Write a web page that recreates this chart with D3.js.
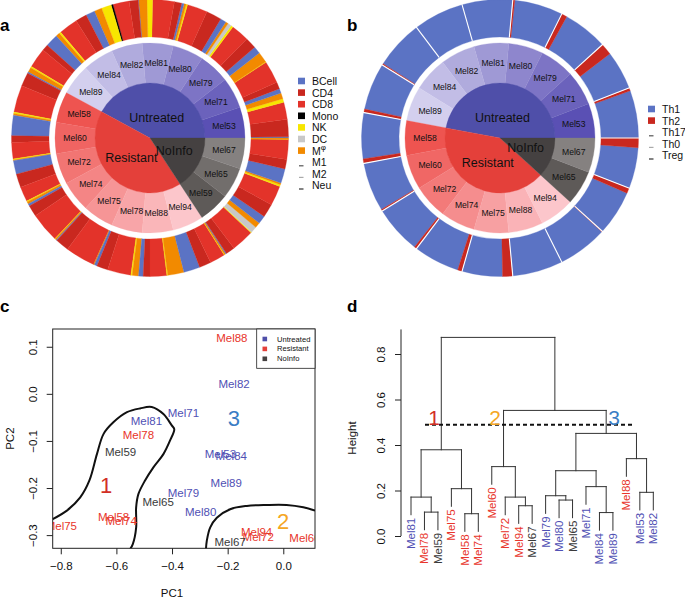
<!DOCTYPE html>
<html>
<head>
<meta charset="utf-8">
<script src="https://cdn.jsdelivr.net/npm/d3@7"></script>
<style>
  body { margin: 0; background: #fff; }
  svg { display: block; font-family: "Liberation Sans", Arial, sans-serif; }
</style>
</head>
<body>
<div id="chart"></div>
<script>
const W = 685, H = 602

// ---- panels a / b : sunbursts ----
const groups = ['Untreated', 'Resistant', 'NoInfo']

const samplesA = ['Mel53', 'Mel71', 'Mel79', 'Mel80', 'Mel81', 'Mel82', 'Mel84', 'Mel89',
  'Mel58', 'Mel60', 'Mel72', 'Mel74', 'Mel75', 'Mel78', 'Mel88', 'Mel94', 'Mel59', 'Mel65', 'Mel67']
const groupOfA = ['Untreated', 'Untreated', 'Untreated', 'Untreated', 'Untreated', 'Untreated', 'Untreated', 'Untreated',
  'Resistant', 'Resistant', 'Resistant', 'Resistant', 'Resistant', 'Resistant', 'Resistant', 'Resistant',
  'NoInfo', 'NoInfo', 'NoInfo']
const cellTypes = ['BCell', 'CD4', 'CD8', 'Mono', 'NK', 'DC', 'Mφ', 'M1', 'M2', 'Neu']
// fraction of each cell type per sample (same order as samplesA)
const cellFrac = [
  [0.03, 0.38, 0.38, 0, 0.08, 0, 0.13, 0, 0, 0], // Mel53
  [0.10, 0.15, 0.50, 0, 0.01, 0, 0.24, 0, 0, 0], // Mel71
  [0.16, 0.25, 0.40, 0, 0.05, 0.08, 0.06, 0, 0, 0], // Mel79
  [0.13, 0.34, 0.45, 0, 0.03, 0, 0.05, 0, 0, 0], // Mel80
  [0.05, 0.16, 0.47, 0, 0.12, 0, 0.18, 0, 0, 0], // Mel81
  [0.01, 0.20, 0.36, 0.04, 0.22, 0, 0.17, 0, 0, 0], // Mel82
  [0.20, 0.25, 0.42, 0, 0.04, 0, 0.09, 0, 0, 0], // Mel84
  [0.28, 0.14, 0.44, 0, 0.03, 0, 0.11, 0, 0, 0], // Mel89
  [0.03, 0.30, 0.60, 0, 0.03, 0, 0.04, 0, 0, 0], // Mel58
  [0.45, 0.15, 0.36, 0, 0.02, 0, 0.02, 0, 0, 0], // Mel60
  [0.30, 0.30, 0.33, 0, 0.02, 0, 0.05, 0, 0, 0], // Mel72
  [0.05, 0.25, 0.66, 0, 0.01, 0, 0.03, 0, 0, 0], // Mel74
  [0.02, 0.30, 0.66, 0, 0, 0, 0.02, 0, 0, 0], // Mel75
  [0.06, 0.25, 0.52, 0, 0.03, 0, 0.14, 0, 0, 0], // Mel78
  [0.10, 0.15, 0.37, 0, 0.02, 0, 0.36, 0, 0, 0], // Mel88
  [0.36, 0.26, 0.34, 0, 0.01, 0, 0.03, 0, 0, 0], // Mel94
  [0.02, 0.20, 0.50, 0, 0.02, 0.14, 0.12, 0, 0, 0], // Mel59
  [0.18, 0.30, 0.44, 0, 0.04, 0, 0.04, 0, 0, 0], // Mel65
  [0.32, 0.21, 0.44, 0, 0.01, 0, 0.02, 0, 0, 0], // Mel67
]

const samplesB = ['Mel53', 'Mel71', 'Mel79', 'Mel80', 'Mel81', 'Mel82', 'Mel84', 'Mel89',
  'Mel58', 'Mel60', 'Mel72', 'Mel74', 'Mel75', 'Mel88', 'Mel94', 'Mel65', 'Mel67']
const groupOfB = ['Untreated', 'Untreated', 'Untreated', 'Untreated', 'Untreated', 'Untreated', 'Untreated', 'Untreated',
  'Resistant', 'Resistant', 'Resistant', 'Resistant', 'Resistant', 'Resistant', 'Resistant',
  'NoInfo', 'NoInfo']
const thTypes = ['Th1', 'Th2', 'Th17', 'Th0', 'Treg']
const th1Frac = [0.94, 0.77, 0.89, 0.96, 1, 1, 0.97, 0.93, 0.91, 0.97, 0.95, 0.91, 0.8, 1, 0.985, 0.89, 0.81]
const th2Frac = [0.06, 0.23, 0.11, 0.04, 0, 0, 0.03, 0.07, 0.09, 0.03, 0.05, 0.09, 0.2, 0, 0.015, 0.11, 0.19]

// ---- panel c : PCA ----
const pcaNames = ['Mel88', 'Mel82', 'Mel71', 'Mel81', 'Mel78', 'Mel59', 'Mel53', 'Mel84', 'Mel89', 'Mel79',
  'Mel65', 'Mel80', 'Mel58', 'Mel74', 'Mel75', 'Mel94', 'Mel72', 'Mel67', 'Mel60']
const pcaGroup = ['Resistant', 'Untreated', 'Untreated', 'Untreated', 'Resistant', 'NoInfo', 'Untreated', 'Untreated',
  'Untreated', 'Untreated', 'NoInfo', 'Untreated', 'Resistant', 'Resistant', 'Resistant', 'Resistant', 'Resistant',
  'NoInfo', 'Resistant']
const pc1 = [-0.185, -0.177, -0.359, -0.492, -0.521, -0.585, -0.226, -0.187, -0.205, -0.359,
  -0.45, -0.297, -0.61, -0.583, -0.798, -0.096, -0.09, -0.191, 0.078]
const pc2 = [0.119, 0.021, -0.040, -0.058, -0.087, -0.124, -0.128, -0.133, -0.189, -0.211,
  -0.229, -0.25, -0.262, -0.271, -0.281, -0.293, -0.303, -0.314, -0.306]
const contour1X = [-0.829, -0.778, -0.730, -0.697, -0.670, -0.646, -0.610, -0.562, -0.515, -0.473, -0.431, -0.401,
  -0.392, -0.407, -0.431, -0.467, -0.497, -0.521, -0.529, -0.529, -0.541, -0.551]
const contour1Y = [-0.266, -0.248, -0.220, -0.184, -0.128, -0.085, -0.060, -0.039, -0.031, -0.028, -0.043, -0.067,
  -0.075, -0.099, -0.128, -0.156, -0.184, -0.213, -0.241, -0.284, -0.319, -0.330]
const contour2X = [-0.278, -0.275, -0.263, -0.239, -0.191, -0.131, -0.060, 0.012, 0.072, 0.114]
const contour2Y = [-0.330, -0.312, -0.284, -0.263, -0.245, -0.238, -0.236, -0.236, -0.241, -0.248]
const clusterIds = ['1', '2', '3']
const clusterPC1 = [-0.637, -0.001, -0.178]
const clusterPC2 = [-0.195, -0.272, -0.053]

// ---- panel d : dendrogram ----
const leafOrder = ['Mel81', 'Mel78', 'Mel59', 'Mel75', 'Mel58', 'Mel74', 'Mel60', 'Mel72', 'Mel94', 'Mel67',
  'Mel79', 'Mel80', 'Mel65', 'Mel71', 'Mel84', 'Mel89', 'Mel88', 'Mel53', 'Mel82']
// [left, right, height]; strings are leaves, numbers refer to earlier merges (1-based)
const merges = [
  ['Mel78', 'Mel59', 0.105], ['Mel58', 'Mel74', 0.098], ['Mel84', 'Mel89', 0.103],
  ['Mel94', 'Mel67', 0.133], ['Mel80', 'Mel65', 0.158], ['Mel81', 1, 0.171],
  ['Mel72', 4, 0.171], ['Mel79', 5, 0.177], ['Mel53', 'Mel82', 0.192],
  ['Mel75', 2, 0.208], ['Mel71', 3, 0.217], [8, 11, 0.287],
  ['Mel60', 7, 0.305], ['Mel88', 9, 0.340], [6, 10, 0.379],
  [12, 14, 0.451], [13, 16, 0.552], [15, 17, 0.873],
]
const cutHeight = 0.489
const clusterLeafPos = [1.71, 6.24, 15.08]

// ---- styles ----
const groupColor = { Untreated: '#4f4fa9', Resistant: '#e4403a', NoInfo: '#454141' }
const sampleRange = {
  Untreated: ['#5a50b4', '#d3cfee'],
  Resistant: ['#ee5450', '#fcc6cb'],
  NoInfo: ['#5e5a58', '#858180'],
}
const typeColor = {
  BCell: '#5b73c4', CD4: '#c9281f', CD8: '#e3332a', Mono: '#000000', NK: '#f7e600',
  DC: '#c8c8c8', 'Mφ': '#f28a00', M1: '#555555', M2: '#aaaaaa', Neu: '#333333',
  Th1: '#5b73c4', Th2: '#c9281f', Th17: '#555555', Th0: '#aaaaaa', Treg: '#333333',
}
const textColor = { Untreated: '#5050b4', Resistant: '#e8352b', NoInfo: '#3a3a3a' }
const clusterColor = ['#d22f26', '#f5a623', '#3a7dc4']
const radii = { group: 55, sampleOut: 95, ringIn: 101, ringOut: 138.5 }

const svg = d3.select('#chart').append('svg').attr('width', W).attr('height', H)
svg.append('rect').attr('width', W).attr('height', H).attr('fill', '#fff')

function panelLetter(t, x, y) {
  svg.append('text').attr('x', x).attr('y', y).text(t)
    .style('font-size', '17px').style('font-weight', 'bold')
}

function sunburst(cx, cy, samples, groupOf, fracs, types, separators) {
  const g = svg.append('g').attr('transform', `translate(${cx},${cy})`)
  const n = samples.length
  const ang = d3.scaleLinear().domain([0, n]).range([Math.PI / 2, Math.PI / 2 - 2 * Math.PI])
  const arc = d3.arc()

  // outer ring: composition of each sample
  fracs.forEach((f, i) => {
    const tot = d3.sum(f)
    let c = 0
    f.forEach((v, k) => {
      if (v <= 0) return
      const a0 = ang(i + c / tot)
      const a1 = ang(i + (c + v) / tot)
      c += v
      g.append('path')
        .attr('d', arc({ innerRadius: radii.ringIn, outerRadius: radii.ringOut, startAngle: a0, endAngle: a1 }))
        .style('fill', typeColor[types[k]])
        .style('stroke', typeColor[types[k]])
        .style('stroke-width', 0.3)
    })
  })
  if (separators) {
    samples.forEach((s, i) => {
      const a = ang(i)
      g.append('line')
        .attr('x1', radii.ringIn * Math.sin(a)).attr('y1', -radii.ringIn * Math.cos(a))
        .attr('x2', (radii.ringOut + 1) * Math.sin(a)).attr('y2', -(radii.ringOut + 1) * Math.cos(a))
        .style('stroke', '#fff').style('stroke-width', 1.1)
    })
  }

  // sample ring
  samples.forEach((s, i) => {
    const grp = groupOf[i]
    const members = samples.filter((d, k) => groupOf[k] === grp)
    const j = members.indexOf(s)
    const t = members.length > 1 ? j / (members.length - 1) : 0
    const col = d3.interpolateRgb(sampleRange[grp][0], sampleRange[grp][1])(t)
    const d = { innerRadius: radii.group - 0.5, outerRadius: radii.sampleOut, startAngle: ang(i), endAngle: ang(i + 1) }
    g.append('path').attr('d', arc(d)).style('fill', col).style('stroke', col).style('stroke-width', 0.3)
  })
  samples.forEach((s, i) => {
    const c = arc.centroid({ innerRadius: radii.group, outerRadius: radii.sampleOut, startAngle: ang(i), endAngle: ang(i + 1) })
    g.append('text').attr('x', c[0]).attr('y', c[1]).text(s)
      .attr('text-anchor', 'middle').attr('dominant-baseline', 'central')
      .style('font-size', '8.6px').style('fill', '#111')
  })

  // group core
  let start = 0
  groups.forEach(grp => {
    const cnt = groupOf.filter(d => d === grp).length
    const d = { innerRadius: 0, outerRadius: radii.group, startAngle: ang(start), endAngle: ang(start + cnt) }
    g.append('path').attr('d', arc(d)).style('fill', groupColor[grp])
      .style('stroke', groupColor[grp]).style('stroke-width', 0.3)
    const c = arc.centroid(d)
    g.append('text').attr('x', c[0]).attr('y', c[1] + (grp === 'Untreated' ? 7 : 0)).text(grp)
      .attr('text-anchor', 'middle').attr('dominant-baseline', 'central')
      .style('font-size', '12.5px').style('fill', '#111')
    start += cnt
  })
}

function ringLegend(x, y0, items, present) {
  const g = svg.append('g')
  items.forEach((name, i) => {
    const y = y0 + i * 11.6
    if (present[i]) {
      g.append('rect').attr('x', x).attr('y', y - 3.3).attr('width', 7).attr('height', 6.6)
        .style('fill', typeColor[name])
    } else {
      g.append('rect').attr('x', x + 1).attr('y', y + 3).attr('width', 4.5).attr('height', 1.2)
        .style('fill', typeColor[name])
    }
    const t = g.append('text').attr('x', x + 14).attr('y', y).attr('dominant-baseline', 'central')
      .style('font-size', '10.5px').style('fill', '#111')
    if (name === 'Mφ') {
      t.append('tspan').text('M')
      t.append('tspan').text('φ').attr('dy', -3.5).style('font-size', '8px')
    } else {
      t.text(name)
    }
  })
}

// panel a
panelLetter('a', 0, 31)
sunburst(150, 138, samplesA, groupOfA, cellFrac, cellTypes, false)
ringLegend(298, 81, cellTypes, cellTypes.map((c, k) => d3.sum(cellFrac, f => f[k]) > 0))

// panel b
panelLetter('b', 347, 31)
const thFrac = samplesB.map((s, i) => [th1Frac[i], th2Frac[i], 0, 0, 0])
sunburst(500, 138, samplesB, groupOfB, thFrac, thTypes, true)
ringLegend(648, 109, thTypes, [true, true, false, false, false])

// panel c
panelLetter('c', 0, 312)
{
  const box = { l: 52.7, r: 315, t: 329, b: 548.3 }
  const x = d3.scaleLinear().domain([-0.829, 0.114]).range([box.l, box.r])
  const y = d3.scaleLinear().domain([-0.328, 0.1377]).range([box.b, box.t])
  const g = svg.append('g')
  g.append('clipPath').attr('id', 'clipc').append('rect')
    .attr('x', box.l).attr('y', box.t).attr('width', box.r - box.l).attr('height', box.b - box.t)

  const fmt = d3.format('.1f')
  const xa = g.append('g').attr('transform', `translate(0,${box.b})`)
    .call(d3.axisBottom(x).tickValues([-0.8, -0.6, -0.4, -0.2, 0]).tickFormat(fmt).tickSize(6).tickSizeOuter(0).tickPadding(8))
  const ya = g.append('g').attr('transform', `translate(${box.l},0)`)
    .call(d3.axisLeft(y).tickValues([-0.3, -0.2, -0.1, 0, 0.1]).tickFormat(fmt).tickSize(6).tickSizeOuter(0))
  ;[xa, ya].forEach(a => {
    a.select('.domain').remove()
    a.selectAll('line').style('stroke', '#222')
    a.selectAll('text').style('font-size', '11.5px').style('fill', '#111').style('font-family', 'inherit')
  })
  ya.selectAll('text').attr('transform', 'rotate(-90)').attr('x', 0).attr('y', -15.5)
    .attr('dy', 0).attr('text-anchor', 'middle')

  g.append('rect').attr('x', box.l).attr('y', box.t).attr('width', box.r - box.l).attr('height', box.b - box.t)
    .style('fill', 'none').style('stroke', '#222').style('stroke-width', 1)

  g.append('text').attr('x', 172).attr('y', 597).text('PC1').attr('text-anchor', 'middle')
    .style('font-size', '11.5px').style('fill', '#111')
  g.append('text').attr('transform', `translate(14,${(box.t + box.b) / 2}) rotate(-90)`).text('PC2')
    .attr('text-anchor', 'middle').style('font-size', '11.5px').style('fill', '#111')

  const inner = g.append('g').attr('clip-path', 'url(#clipc)')
  const line = d3.line().x(d => x(d[0])).y(d => y(d[1])).curve(d3.curveCatmullRom)
  ;[[contour1X, contour1Y], [contour2X, contour2Y]].forEach(([cx, cy]) => {
    inner.append('path').attr('d', line(cx.map((v, i) => [v, cy[i]])))
      .style('fill', 'none').style('stroke', '#111').style('stroke-width', 2)
  })
  pcaNames.forEach((nm, i) => {
    inner.append('text').attr('x', x(pc1[i])).attr('y', y(pc2[i])).text(nm)
      .attr('text-anchor', 'middle').attr('dominant-baseline', 'central')
      .style('font-size', '11.5px').style('fill', textColor[pcaGroup[i]])
  })
  clusterIds.forEach((c, i) => {
    inner.append('text').attr('x', x(clusterPC1[i])).attr('y', y(clusterPC2[i])).text(c)
      .attr('text-anchor', 'middle').attr('dominant-baseline', 'central')
      .style('font-size', '22px').style('fill', clusterColor[i])
  })

  // legend
  const lg = g.append('g')
  lg.append('rect').attr('x', 256.7).attr('y', box.t).attr('width', box.r - 256.7).attr('height', 39.3)
    .style('fill', '#fff').style('stroke', '#222').style('stroke-width', 0.8)
  groups.forEach((grp, i) => {
    const yy = 339 + i * 9.9
    lg.append('rect').attr('x', 262.5).attr('y', yy - 2.3).attr('width', 4.6).attr('height', 4.6)
      .style('fill', groupColor[grp])
    lg.append('text').attr('x', 277).attr('y', yy).text(grp).attr('dominant-baseline', 'central')
      .style('font-size', '7.6px').style('fill', '#111')
  })
}

// panel d
panelLetter('d', 347, 312)
{
  const xD = d3.scaleLinear().domain([0, leafOrder.length - 1]).range([411, 653.3])
  const yD = d3.scaleLinear().domain([0, 0.8]).range([536, 354])
  const g = svg.append('g')
  const heights = merges.map(m => m[2])
  const hang = 0.1 * (d3.max(heights) - d3.min(heights))
  const nodeX = []
  const leafBottom = {}
  const pos = ref => (typeof ref === 'string' ? xD(leafOrder.indexOf(ref)) : nodeX[ref - 1])
  const seg = []
  merges.forEach((m, i) => {
    const h = m[2]
    const xs = [pos(m[0]), pos(m[1])]
    nodeX[i] = (xs[0] + xs[1]) / 2
    ;[m[0], m[1]].forEach((ref, k) => {
      const bottom = typeof ref === 'string' ? h - hang : merges[ref - 1][2]
      if (typeof ref === 'string') leafBottom[ref] = bottom
      seg.push([xs[k], bottom, xs[k], h])
    })
    seg.push([xs[0], h, xs[1], h])
  })
  g.selectAll('.seg').data(seg).enter().append('line').attr('class', 'seg')
    .attr('x1', d => d[0]).attr('y1', d => yD(d[1])).attr('x2', d => d[2]).attr('y2', d => yD(d[3]))
    .style('stroke', '#333').style('stroke-width', 1).style('stroke-linecap', 'square')

  const ya = g.append('g').attr('transform', 'translate(401,0)')
    .call(d3.axisLeft(yD).tickValues([0, 0.2, 0.4, 0.6, 0.8]).tickFormat(d3.format('.1f')).tickSize(6).tickSizeOuter(0))
  ya.select('.domain').remove()
  ya.append('line').attr('x1', 0).attr('x2', 0).attr('y1', yD(0)).attr('y2', yD(0.908)).style('stroke', '#222')
  ya.selectAll('.tick line').style('stroke', '#222')
  ya.selectAll('text').attr('transform', 'rotate(-90)').attr('x', 0).attr('y', -16).attr('dy', 0)
    .attr('text-anchor', 'middle').style('font-size', '11.5px').style('fill', '#111').style('font-family', 'inherit')
  g.append('text').attr('transform', 'translate(356,438) rotate(-90)').text('Height')
    .attr('text-anchor', 'middle').style('font-size', '11.5px').style('fill', '#111')

  leafOrder.forEach((nm, i) => {
    const grp = pcaGroup[pcaNames.indexOf(nm)] || groupOfA[samplesA.indexOf(nm)]
    g.append('text')
      .attr('transform', `translate(${xD(i)},${yD(leafBottom[nm]) + 3}) rotate(-90)`)
      .text(nm).attr('text-anchor', 'end').attr('dominant-baseline', 'central')
      .style('font-size', '11.5px').style('fill', textColor[grp])
  })

  g.append('line').attr('x1', 425).attr('x2', 635).attr('y1', yD(cutHeight)).attr('y2', yD(cutHeight))
    .style('stroke', '#111').style('stroke-width', 2).style('stroke-dasharray', '4,3')
  clusterIds.forEach((c, i) => {
    g.append('text').attr('x', xD(clusterLeafPos[i])).attr('y', yD(cutHeight) + 0.5).text(c)
      .attr('text-anchor', 'middle').style('font-size', '21px').style('fill', clusterColor[i])
  })
}
</script>
</body>
</html>
